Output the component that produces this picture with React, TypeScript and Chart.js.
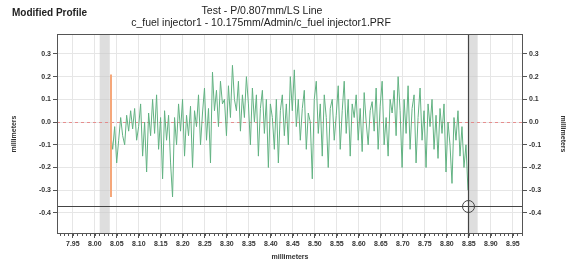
import { useEffect, useRef } from 'react';
import { Chart, registerables } from 'chart.js';
Chart.register(...registerables);

const headerLeft = 'Modified Profile';
const titleLines = ['Test - P/0.807mm/LS Line', 'c_fuel injector1 - 10.175mm/Admin/c_fuel injector1.PRF'];
const axisTitle = 'millimeters';

const xStart = 8.036;
const xStep = 0.004536;
const profile = [
  -0.05, -0.12, -0.02, -0.18, -0.08, 0.02, -0.06, -0.1, 0.03, -0.04, 0.05,
  -0.03, 0.06, -0.08, -0.02, 0.08, -0.15, 0.0, -0.22, 0.04, -0.06,
  0.1, -0.05, 0.12, -0.12, 0.02, -0.25, 0.05, -0.08, 0.03, -0.18,
  -0.33, 0.02, -0.1, 0.08, -0.04, 0.1, -0.15, 0.03, -0.06, 0.07,
  -0.2, 0.05, -0.02, 0.12, -0.1, 0.04, 0.15, -0.08, 0.06, -0.18,
  0.22, 0.05, 0.14, -0.02, 0.18, 0.08, 0.1, -0.06, 0.16, 0.02,
  0.25, 0.1, 0.05, 0.18, -0.04, 0.12, 0.02, 0.2, 0.08, -0.1,
  0.15, 0.0, 0.12, -0.15, 0.06, 0.14, -0.05, 0.1, -0.2, 0.08,
  0.02, -0.12, 0.1, -0.18, 0.05, 0.12, -0.06, 0.08, -0.1, 0.2,
  0.05, 0.23, -0.02, 0.1, -0.08, 0.06, 0.14, -0.12, 0.04, 0.0,
  -0.25, 0.1, 0.18, -0.05, 0.08, -0.15, 0.12, 0.02, -0.2, 0.06,
  0.1, -0.08, 0.03, 0.16, -0.12, 0.05, 0.18, -0.05, 0.1, -0.15,
  0.08, 0.02, 0.12, -0.08, 0.06, -0.13, 0.13, 0.0, -0.1, 0.05,
  0.09, -0.04, 0.15, -0.12, 0.07, 0.18, -0.1, 0.02, -0.15, 0.1,
  0.04, 0.14, -0.06, 0.2, 0.05, -0.2, 0.1, -0.05, 0.16, -0.12,
  0.06, 0.12, -0.18, 0.02, 0.15, -0.08, 0.05, -0.2, 0.08, -0.02,
  0.1, -0.12, 0.03, -0.16, 0.06, -0.05, 0.08, -0.22, 0.0, -0.1,
  -0.27, 0.02, -0.08, 0.05, -0.15, -0.02, -0.2, -0.1, -0.3,
];

const xTicks = [7.95, 8.0, 8.05, 8.1, 8.15, 8.2, 8.25, 8.3, 8.35, 8.4, 8.45, 8.5, 8.55, 8.6, 8.65, 8.7, 8.75, 8.8, 8.85, 8.9, 8.95];
const yTicks = [-0.4, -0.3, -0.2, -0.1, 0.0, 0.1, 0.2, 0.3];
const xRange = [7.914, 8.973];
const yRange = [-0.493, 0.388];
const minorStep = 0.01;
const bandLeft = [8.011, 8.034];
const bandRight = [8.848, 8.87];
const cursorX = 8.848;
const cursorY = -0.37;
const markerX = 8.036;
const markerRange = [-0.33, 0.21];

const FONT = "'Liberation Sans', Arial, sans-serif";

export default function App() {
  const ref = useRef<HTMLCanvasElement>(null);
  useEffect(() => {
    const canvas = ref.current!;
    const points = profile.map((y, i) => ({ x: xStart + i * xStep, y }));
    const overlay = {
      id: 'overlay',
      beforeDatasetsDraw(chart: any) {
        const { ctx, chartArea: a, scales } = chart;
        const x = scales.x, y = scales.y;
        ctx.save();
        ctx.fillStyle = 'rgba(200,200,200,0.6)';
        for (const b of [bandLeft, bandRight]) {
          const x0 = x.getPixelForValue(b[0]);
          const x1 = x.getPixelForValue(b[1]);
          ctx.fillRect(x0, a.top, x1 - x0, a.bottom - a.top);
        }
        ctx.strokeStyle = 'rgba(230,120,120,0.8)';
        ctx.setLineDash([3, 3]);
        ctx.lineWidth = 1;
        const y0 = Math.round(y.getPixelForValue(0)) + 0.5;
        ctx.beginPath();
        ctx.moveTo(a.left, y0);
        ctx.lineTo(a.right, y0);
        ctx.stroke();
        ctx.restore();
      },
      afterDatasetsDraw(chart: any) {
        const { ctx, chartArea: a, scales } = chart;
        const x = scales.x, y = scales.y;
        ctx.save();
        const mx = Math.round(x.getPixelForValue(markerX));
        ctx.strokeStyle = '#f5a77a';
        ctx.lineWidth = 2;
        ctx.beginPath();
        ctx.moveTo(mx, y.getPixelForValue(markerRange[1]));
        ctx.lineTo(mx, y.getPixelForValue(markerRange[0]));
        ctx.stroke();
        ctx.strokeStyle = '#444';
        ctx.lineWidth = 1.2;
        const cx = Math.round(x.getPixelForValue(cursorX)) + 0.5;
        const cy = Math.round(y.getPixelForValue(cursorY)) + 0.5;
        ctx.beginPath();
        ctx.moveTo(cx, a.top);
        ctx.lineTo(cx, a.bottom + 4);
        ctx.moveTo(a.left, cy);
        ctx.lineTo(a.right, cy);
        ctx.stroke();
        ctx.lineWidth = 1;
        ctx.beginPath();
        ctx.arc(cx, cy, 6, 0, Math.PI * 2);
        ctx.stroke();
        ctx.strokeStyle = '#555';
        ctx.lineWidth = 1;
        ctx.strokeRect(a.left + 0.5, a.top + 0.5, a.right - a.left - 1, a.bottom - a.top - 1);
        ctx.beginPath();
        for (let v = Math.ceil(xRange[0] / minorStep) * minorStep; v <= xRange[1]; v += minorStep) {
          const px = Math.round(x.getPixelForValue(v)) + 0.5;
          ctx.moveTo(px, a.bottom);
          ctx.lineTo(px, a.bottom + 2);
        }
        ctx.stroke();
        ctx.fillStyle = '#222';
        ctx.textBaseline = 'middle';
        ctx.font = `bold 10px ${FONT}`;
        ctx.textAlign = 'left';
        ctx.fillText(headerLeft, 12, 13);
        ctx.font = `10.5px ${FONT}`;
        ctx.textAlign = 'center';
        ctx.fillText(titleLines[0], 262, 11);
        ctx.fillText(titleLines[1], 261, 23);
        ctx.restore();
      },
    };
    const tickFont = { family: FONT, size: 7, weight: 'bold' as const };
    const chart = new Chart(canvas, {
      type: 'line',
      data: {
        datasets: [
          {
            data: points,
            borderColor: '#62b282',
            borderWidth: 1,
            pointRadius: 0,
            tension: 0,
          },
        ],
      },
      options: {
        animation: false,
        responsive: false,
        layout: { padding: { top: 34 } },
        plugins: { legend: { display: false }, tooltip: { enabled: false } },
        scales: {
          x: {
            type: 'linear',
            min: xRange[0],
            max: xRange[1],
            afterBuildTicks: (s: any) => { s.ticks = xTicks.map((v) => ({ value: v })); },
            afterFit: (s: any) => { s.height = 29; },
            grid: { color: '#e6e6e6', tickLength: 4, tickColor: '#555' },
            border: { display: false },
            ticks: { font: tickFont, color: '#333', padding: 2, maxRotation: 0, autoSkip: false, callback: (v: any) => Number(v).toFixed(2) },
            title: { display: true, text: axisTitle, font: { family: FONT, size: 7, weight: 'bold' }, color: '#333', padding: { top: 0, bottom: 2 } },
          },
          y: {
            type: 'linear',
            position: 'left',
            min: yRange[0],
            max: yRange[1],
            afterBuildTicks: (s: any) => { s.ticks = yTicks.map((v) => ({ value: v })); },
            afterFit: (s: any) => { s.width = 57; },
            grid: { color: '#e6e6e6', tickLength: 4, tickColor: '#555' },
            border: { display: false },
            ticks: { font: tickFont, color: '#333', padding: 2, callback: (v: any) => Number(v).toFixed(1) },
            title: { display: true, text: axisTitle, font: { family: FONT, size: 7, weight: 'bold' }, color: '#333', padding: { top: 10, bottom: 0 } },
          },
          y2: {
            type: 'linear',
            position: 'right',
            min: yRange[0],
            max: yRange[1],
            afterBuildTicks: (s: any) => { s.ticks = yTicks.map((v) => ({ value: v })); },
            afterFit: (s: any) => { s.width = 51; },
            grid: { drawOnChartArea: false, tickLength: 4, tickColor: '#555' },
            border: { display: false },
            ticks: { font: tickFont, color: '#333', padding: 2, callback: (v: any) => Number(v).toFixed(1) },
            title: { display: true, text: axisTitle, font: { family: FONT, size: 7, weight: 'bold' }, color: '#333', padding: { top: 7, bottom: 0 } },
          },
        },
      },
      plugins: [overlay],
    });
    return () => chart.destroy();
  }, []);
  return (
    <div style={{ position: 'fixed', left: 0, top: 0, width: 574, height: 263, background: '#fff' }}>
      <canvas ref={ref} width={574} height={263} style={{ width: 574, height: 263, display: 'block' }} />
    </div>
  );
}
